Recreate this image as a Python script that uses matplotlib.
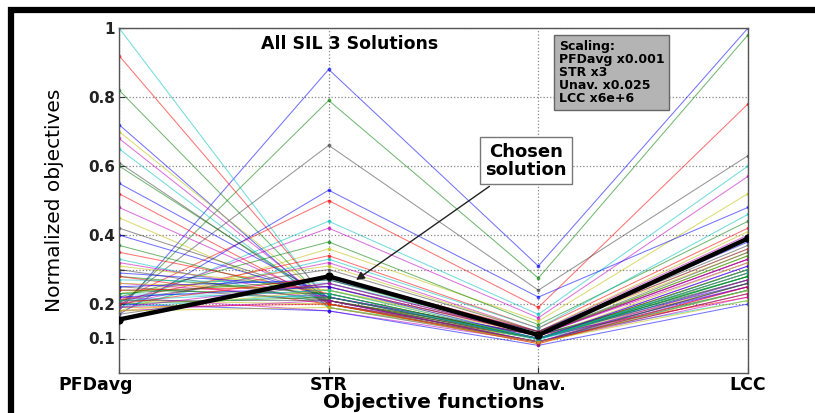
import matplotlib
matplotlib.use("Agg")
import matplotlib.pyplot as plt
from matplotlib.patches import Rectangle
from matplotlib.transforms import ScaledTranslation

plt.rcParams['font.family'] = ['DejaVu Sans']

objectives = ["PFDavg", "STR", "Unav.", "LCC"]
y_ticks = [0.1, 0.2, 0.3, 0.4, 0.6, 0.8, 1.0]
y_tick_labels = ["0.1", "0.2", "", "0.4", "0.6", "0.8", "1"]

# normalized objective values of every SIL 3 solution
pfdavg = [0.18, 0.19, 0.21, 0.19, 0.20, 0.18, 0.20,
          0.72, 0.82, 0.92, 1.00, 0.68, 0.70, 0.61, 0.55, 0.60, 0.52, 0.65, 0.48, 0.45, 0.42,
          0.17, 0.22, 0.21, 0.19, 0.20, 0.23, 0.21,
          0.40, 0.37, 0.35, 0.33, 0.32, 0.31, 0.30, 0.29, 0.28, 0.28, 0.27, 0.26, 0.26, 0.25,
          0.25, 0.24, 0.24, 0.23,
          0.22, 0.21, 0.21, 0.20, 0.20, 0.19, 0.19, 0.18, 0.18, 0.17, 0.22, 0.23, 0.20, 0.21,
          0.19, 0.18]
str_vals = [0.88, 0.79, 0.50, 0.44, 0.42, 0.36, 0.66,
            0.19, 0.20, 0.21, 0.20, 0.20, 0.21, 0.20, 0.22, 0.21, 0.20, 0.19, 0.21, 0.19, 0.22,
            0.53, 0.38, 0.34, 0.33, 0.32, 0.31, 0.30,
            0.22, 0.21, 0.23, 0.20, 0.22, 0.24, 0.21, 0.25, 0.23, 0.20, 0.26, 0.22, 0.24, 0.21,
            0.27, 0.23, 0.25, 0.22,
            0.18, 0.20, 0.21, 0.18, 0.22, 0.20, 0.23, 0.21, 0.24, 0.26, 0.25, 0.27, 0.28, 0.24,
            0.26, 0.19]
unav = [0.31, 0.275, 0.19, 0.17, 0.16, 0.15, 0.24,
        0.09, 0.10, 0.11, 0.10, 0.11, 0.10, 0.09, 0.11, 0.10, 0.10, 0.10, 0.09, 0.10, 0.11,
        0.22, 0.14, 0.13, 0.13, 0.12, 0.12, 0.12,
        0.10, 0.11, 0.10, 0.09, 0.11, 0.12, 0.10, 0.11, 0.10, 0.09, 0.12, 0.10, 0.11, 0.09,
        0.12, 0.10, 0.11, 0.10,
        0.09, 0.085, 0.09, 0.08, 0.10, 0.085, 0.095, 0.09, 0.10, 0.11, 0.10, 0.11, 0.12, 0.10,
        0.11, 0.09]
lcc = [1.00, 0.98, 0.78, 0.60, 0.57, 0.52, 0.63,
       0.23, 0.24, 0.22, 0.21, 0.25, 0.26, 0.24, 0.26, 0.28, 0.29, 0.27, 0.25, 0.30, 0.27,
       0.48, 0.44, 0.42, 0.46, 0.40, 0.41, 0.37,
       0.25, 0.28, 0.30, 0.24, 0.32, 0.35, 0.27, 0.33, 0.29, 0.23, 0.36, 0.31, 0.34, 0.26,
       0.38, 0.30, 0.33, 0.28,
       0.22, 0.24, 0.26, 0.20, 0.28, 0.25, 0.30, 0.27, 0.32, 0.35, 0.31, 0.34, 0.36, 0.29,
       0.33, 0.21]

# the solution picked for SIL 3
chosen = [0.155, 0.28, 0.11, 0.39]

palette = [(0, 0, 1), (0, 0.5, 0), (1, 0, 0), (0, 0.75, 0.75),
           (0.75, 0, 0.75), (0.75, 0.75, 0), (0.25, 0.25, 0.25)]

fig = plt.figure(figsize=(8.15, 4.13), dpi=100)
ax = fig.add_axes([119 / 815, 1 - 373 / 413, 629 / 815, 345 / 413])

xs = list(range(1, len(objectives) + 1))
for i in range(len(pfdavg)):
    vals = [pfdavg[i], str_vals[i], unav[i], lcc[i]]
    ax.plot(xs, vals, '-', marker='.', markersize=3.5, lw=0.75,
            color=palette[i % len(palette)], alpha=0.55, zorder=2)

ax.plot(xs, chosen, '-', marker='o', markersize=5, lw=3.2, color='black', zorder=4)

ax.set_xlim(1, 4)
ax.set_ylim(0, 1)
ax.set_xticks(xs)
ax.set_xticklabels(objectives, fontsize=12.5, fontweight='bold')
ax.set_yticks(y_ticks)
ax.set_yticklabels(y_tick_labels, fontsize=11, fontweight='bold')
ax.tick_params(direction='in', length=4, width=0.8, colors='#333333', pad=3)
ax.tick_params(axis='x', pad=2, labelcolor='black')
ax.tick_params(axis='y', labelcolor='#222222')
first = ax.get_xticklabels()[0]
first.set_transform(first.get_transform() + ScaledTranslation(-0.23, 0, fig.dpi_scale_trans))

ax.grid(True, linestyle=':', color='#888888', linewidth=0.9, zorder=1)
for s in ax.spines.values():
    s.set_color('#555555')
    s.set_linewidth(1.0)

ax.set_ylabel("Normalized objectives", fontsize=14.5)
ax.yaxis.set_label_coords(-0.088, 0.5)
ax.set_xlabel("Objective functions", fontsize=14.5, fontweight='bold')
ax.xaxis.set_label_coords(0.5, -0.057)

ax.text(0.366, 0.955, "All SIL 3 Solutions", transform=ax.transAxes,
        ha='center', va='center', fontsize=12.5, fontweight='bold')

ax.text(0.699, 0.966, "Scaling:\nPFDavg x0.001\nSTR x3\nUnav. x0.025\nLCC x6e+6",
        transform=ax.transAxes, ha='left', va='top', fontsize=9, fontweight='bold',
        linespacing=1.0,
        bbox=dict(boxstyle='square,pad=0.4', facecolor='#b4b4b4', edgecolor='#666666', lw=1))

ax.annotate("Chosen\nsolution", xy=(2.12, 0.265), xytext=(2.94, 0.615),
            textcoords='data', ha='center', va='center', fontsize=13, fontweight='bold',
            linespacing=1.0,
            bbox=dict(boxstyle='square,pad=0.3', facecolor='white', edgecolor='#777777', lw=1),
            arrowprops=dict(arrowstyle='-|>', color='#222222', lw=1, mutation_scale=12),
            zorder=6)

# outer frame
fig.patches.append(Rectangle((10.5 / 815, -0.1), 1.2, 1 - 10 / 413 + 0.1,
                             transform=fig.transFigure, fill=False,
                             edgecolor='black', linewidth=4.5, zorder=10))

fig.savefig("out.png", dpi=100)
